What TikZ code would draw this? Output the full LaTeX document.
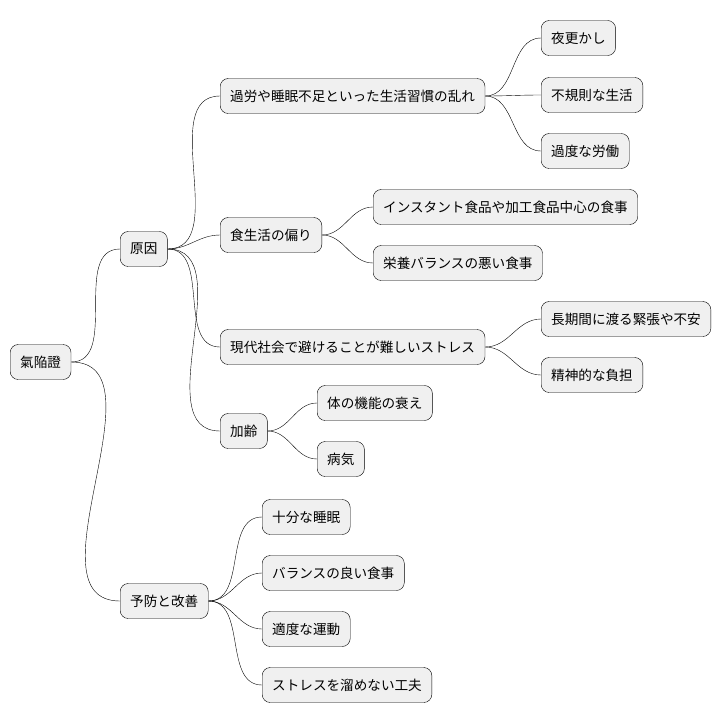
\documentclass[tikz,border=0pt]{standalone}
\usepackage{fontspec}
\setmainfont{Noto Sans CJK JP}
\usetikzlibrary{positioning}

\begin{document}
\begin{tikzpicture}[x=1pt,y=-1pt]

    % Define styles
    \tikzset{topic/.style={rectangle, rounded corners=8pt, draw, thin, fill=black!6, anchor=west, minimum height=35pt, inner xsep=10pt, font=\fontsize{13.6pt}{16pt}\selectfont},
             branch/.style={draw, thin, out=0, in=180}}
    \useasboundingbox (0,0) rectangle (726,724);

    % Root and main branches
    \node[topic] (root) at (10,362) {氣陥證};
    \node[topic] (cause) at (120,249) {原因};
    \node[topic] (prevent) at (120,601) {予防と改善};

    % Causes
    \node[topic] (habit) at (220,96) {過労や睡眠不足といった生活習慣の乱れ};
    \node[topic] (late) at (541,38) {夜更かし};
    \node[topic] (irregular) at (541,95) {不規則な生活};
    \node[topic] (overwork) at (541,151) {過度な労働};

    \node[topic] (diet) at (220,235) {食生活の偏り};
    \node[topic] (instant) at (373,207) {インスタント食品や加工食品中心の食事};
    \node[topic] (nutrition) at (373,263) {栄養バランスの悪い食事};

    \node[topic] (stress) at (220,347) {現代社会で避けることが難しいストレス};
    \node[topic] (tension) at (541,319) {長期間に渡る緊張や不安};
    \node[topic] (mental) at (541,375) {精神的な負担};

    \node[topic] (aging) at (220,431) {加齢};
    \node[topic] (decline) at (317,403) {体の機能の衰え};
    \node[topic] (illness) at (317,459) {病気};

    % Prevention
    \node[topic] (sleep) at (262,517) {十分な睡眠};
    \node[topic] (meal) at (262,573) {バランスの良い食事};
    \node[topic] (exercise) at (262,629) {適度な運動};
    \node[topic] (relax) at (262,685) {ストレスを溜めない工夫};

    % Connections
    \foreach \a/\b in {root/cause, root/prevent,
                       cause/habit, cause/diet, cause/stress, cause/aging,
                       habit/late, habit/irregular, habit/overwork,
                       diet/instant, diet/nutrition,
                       stress/tension, stress/mental,
                       aging/decline, aging/illness,
                       prevent/sleep, prevent/meal, prevent/exercise, prevent/relax}
        \draw[branch] (\a.east) to (\b.west);

\end{tikzpicture}
\end{document}
